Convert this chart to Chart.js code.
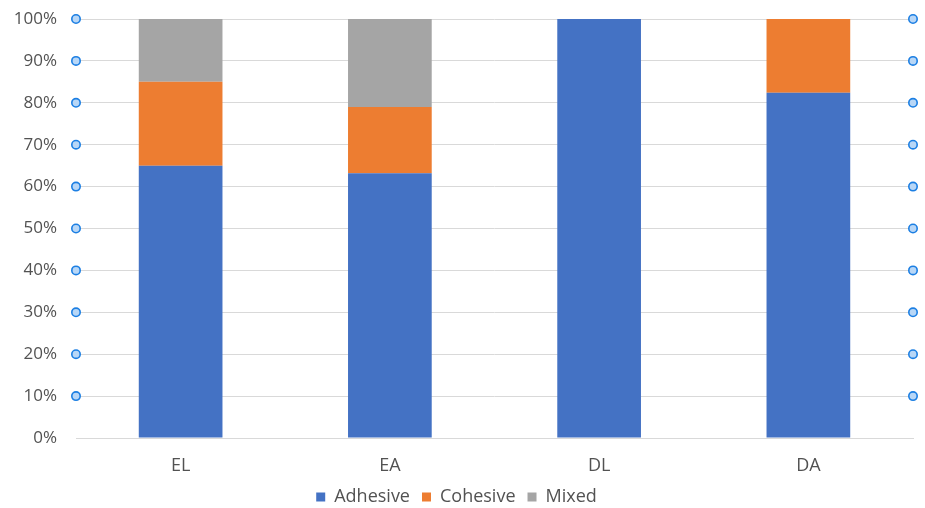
<!DOCTYPE html>
<html>
<head>
<meta charset="utf-8">
<script src="https://cdn.jsdelivr.net/npm/chart.js@4/dist/chart.umd.min.js"></script>
<style>
  html, body { margin: 0; padding: 0; background: #ffffff; }
  #wrap { width: 925px; height: 508px; }
</style>
</head>
<body>
<div id="wrap"><canvas id="c" width="925" height="508"></canvas></div>
<script>
// Failure mode shares (%) per group
const categories = ['EL', 'EA', 'DL', 'DA'];
const adhesive = [65.0, 63.2, 100, 82.4];
const cohesive = [20.0, 15.8, 0, 17.6];
const mixed = [15.0, 21.0, 0, 0];
const yTicks = [0, 10, 20, 30, 40, 50, 60, 70, 80, 90, 100];

const FONT = '"Open Sans", "DejaVu Sans", sans-serif';
const TEXT = '#525252';
const GRID = '#d9d9d9';

// Small round handles at both ends of each non-zero gridline
const handles = {
  id: 'handles',
  afterDraw(chart) {
    const ctx = chart.ctx;
    const y = chart.scales.y;
    const area = chart.chartArea;
    ctx.save();
    ctx.lineWidth = 1.6;
    ctx.strokeStyle = '#1c7fe3';
    ctx.fillStyle = '#b8d7f7';
    yTicks.filter(v => v > 0).forEach(v => {
      const py = y.getPixelForValue(v);
      [area.left, area.right].forEach(px => {
        ctx.beginPath();
        ctx.arc(px, py, 4.2, 0, Math.PI * 2);
        ctx.fill();
        ctx.stroke();
      });
    });
    ctx.restore();
  }
};

new Chart(document.getElementById('c'), {
  type: 'bar',
  data: {
    labels: categories,
    datasets: [
      { label: 'Adhesive', data: adhesive, backgroundColor: '#4472C4' },
      { label: 'Cohesive', data: cohesive, backgroundColor: '#ED7D31' },
      { label: 'Mixed', data: mixed, backgroundColor: '#A5A5A5' }
    ]
  },
  options: {
    responsive: false,
    animation: false,
    layout: { padding: { left: 0, right: 12, top: 19, bottom: -5 } },
    datasets: { bar: { categoryPercentage: 1.0, barPercentage: 0.4 } },
    plugins: {
      tooltip: { enabled: false },
      legend: {
        position: 'bottom',
        maxHeight: 37,
        labels: {
          font: { family: FONT, size: 18 },
          color: TEXT,
          boxWidth: 9,
          boxHeight: 9,
          padding: 12
        }
      }
    },
    scales: {
      x: {
        stacked: true,
        afterFit(scale) { scale.height = 38; },
        grid: { display: false, drawTicks: false },
        border: { display: true, color: GRID, width: 1 },
        ticks: { font: { family: FONT, size: 18 }, color: TEXT, padding: 17 }
      },
      y: {
        stacked: true,
        min: 0,
        max: 100,
        afterFit(scale) {
          scale.width = 76;
          scale.paddingTop = 0;
          scale.paddingBottom = 0;
        },
        afterBuildTicks(scale) { scale.ticks = yTicks.map(v => ({ value: v })); },
        grid: { color: GRID, lineWidth: 1, drawTicks: false },
        border: { display: false },
        ticks: {
          font: { family: FONT, size: 17 },
          color: TEXT,
          padding: 19,
          callback: v => v + '%'
        }
      }
    }
  },
  plugins: [handles]
});
</script>
</body>
</html>
